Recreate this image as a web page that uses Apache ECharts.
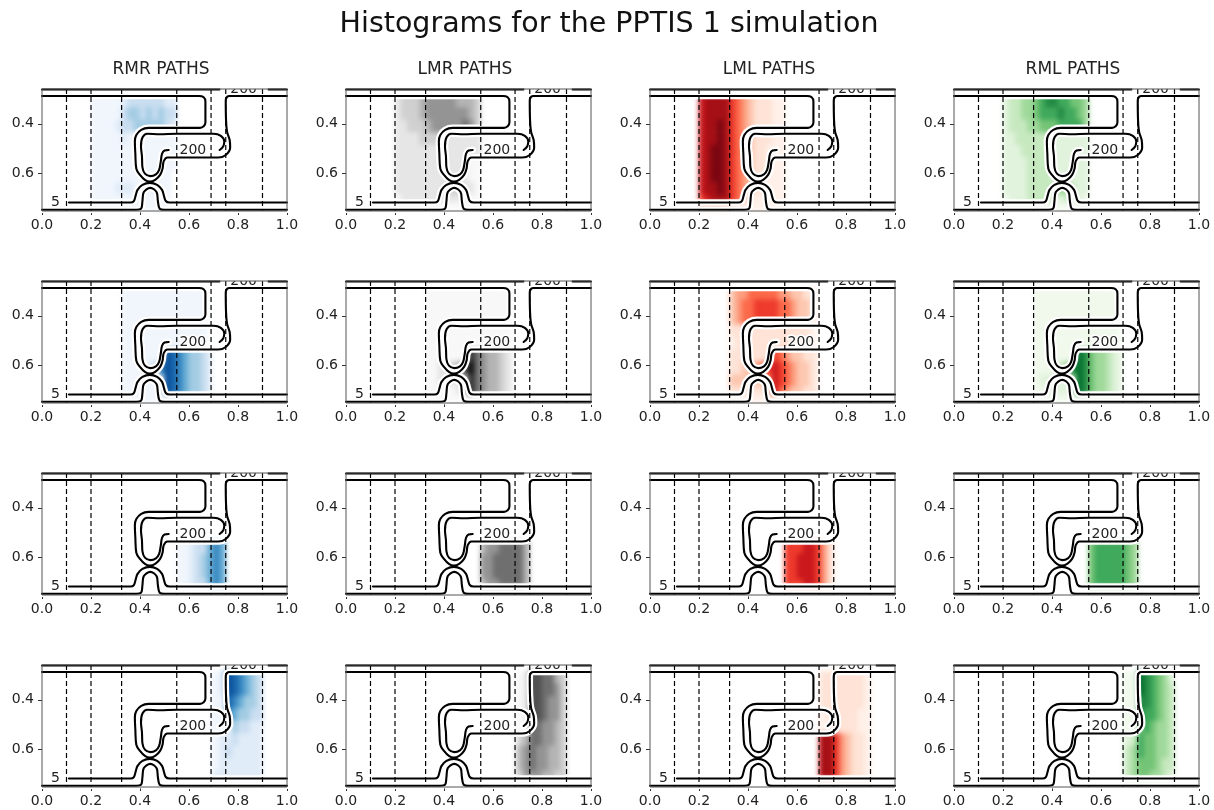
<!DOCTYPE html>
<html><head><meta charset="utf-8">
<style>html,body{margin:0;padding:0;background:#fff}#c{width:1214px;height:810px}
#c canvas[data-zr-dom-id="zr_0"]{filter:blur(2.5px)}</style>
<script src="https://cdn.jsdelivr.net/npm/echarts@6/dist/echarts.min.js"></script>
</head><body><div id="c"></div>
<script>
const figureTitle = 'Histograms for the PPTIS 1 simulation';
const columnTitles = ['RMR PATHS','LMR PATHS','LML PATHS','RML PATHS'];
const xTicks = [0,0.2,0.4,0.6,0.8,1.0];
const yTicks = [0.4,0.6];
const interfaces = [0.1,0.2,0.325,0.55,0.69,0.75,0.9];

// histogram bin edges
const yEdges = [.285,.335,.385,.435,.485,.535,.585,.635,.685,.715,.745];
const xEdgesRow1 = [.2,.225,.25,.275,.3,.325,.35,.375,.4,.425,.45,.475,.5,.525,.55];
const xEdgesRow2 = [.325,.35,.375,.4,.425,.45,.475,.5,.525,.55,.575,.6,.625,.65,.675,.69];
const xEdgesRow3 = [.55,.575,.6,.625,.65,.675,.7,.725,.75];
const xEdgesRow4 = [.69,.7,.725,.75,.775,.8,.825,.85,.875,.9];

// histogram levels (0 = empty, 9 = darkest)
const rmr1 = [[1,1,1,1,1,2,3,3,3,3,3,3,2,2],[1,1,1,1,1,3,4,4,3,4,3,4,3,3],[1,1,1,1,2,3,3,4,4,4,4,4,3,2],[1,1,1,1,1,2,1,1,1,1,1,1,1,1],[1,1,1,1,1,1,1,1,1,1,1,1,1,1],[1,1,1,1,1,1,1,1,1,1,1,1,1,1],[1,1,1,1,1,1,1,1,1,1,1,1,1,0],[1,1,1,1,2,2,2,1,1,1,2,1,1,0],[1,1,1,1,1,1,1,1,1,1,1,1,1,0],[1,1,1,1,1,1,1,1,1,1,1,1,1,0]];
const lmr1 = [[2,3,3,3,4,5,5,5,5,5,4,4,4,3],[2,3,3,3,4,5,5,5,5,5,5,5,4,3],[2,2,3,3,3,4,5,5,5,5,5,6,5,3],[2,2,2,2,3,3,3,3,2,2,2,2,2,2],[2,2,2,2,2,2,2,2,2,2,2,2,2,2],[2,2,2,2,2,2,2,2,2,2,2,2,1,1],[2,2,2,2,2,2,2,2,2,2,2,2,1,1],[2,2,2,2,2,2,2,2,3,3,3,2,2,1],[1,2,2,2,2,2,2,2,2,2,2,2,1,1],[1,1,1,1,1,1,1,1,1,1,1,1,1,1]];
const lml1 = [[7,8,8,8,8,6,5,4,3,2,2,2,1,1],[7,8,8,8,8,6,5,4,3,2,2,2,1,1],[7,8,8,9,8,6,5,4,3,2,2,2,1,1],[7,8,8,9,8,6,5,4,3,2,2,2,1,1],[7,8,9,9,8,6,5,4,3,2,2,1,1,1],[7,8,9,9,8,6,5,4,3,2,2,1,1,1],[7,8,9,9,8,6,5,4,3,2,2,1,1,1],[7,8,8,9,8,6,5,4,3,2,2,1,1,1],[6,7,8,8,8,6,5,3,2,1,1,1,1,1],[3,3,3,3,3,2,2,1,1,1,1,1,1,1]];
const rml1 = [[2,3,3,4,4,5,6,7,7,6,6,5,5,4],[2,3,3,4,4,5,6,6,6,7,6,6,5,4],[2,3,3,3,4,4,5,5,5,6,6,6,6,4],[2,2,3,3,3,3,3,3,2,2,2,2,2,2],[2,2,2,3,3,3,3,3,2,2,2,2,2,2],[2,2,2,2,3,3,3,3,2,2,2,2,2,2],[2,2,2,2,3,3,3,3,2,2,2,2,2,2],[2,2,2,2,3,3,3,3,4,4,4,3,2,2],[1,2,2,2,3,3,3,3,2,2,3,2,2,1],[1,1,1,1,1,1,1,1,1,1,1,1,1,1]];

const rmr2 = [[1,1,1,1,1,1,1,1,1,1,1,1,1,1,0],[1,1,1,1,1,1,1,1,1,1,1,1,1,1,0],[1,1,1,1,1,1,1,1,1,1,1,1,1,1,0],[1,1,1,1,1,1,1,1,1,1,1,1,1,1,0],[1,1,1,1,1,1,1,1,1,1,1,1,1,1,0],[1,1,1,1,1,1,1,8,7,6,5,4,4,3,2],[1,1,1,1,2,3,6,8,7,6,5,4,4,3,2],[1,1,1,1,1,1,3,8,7,6,5,4,4,3,2],[1,1,1,1,1,1,3,8,7,6,5,4,4,3,2],[1,1,1,1,1,1,1,2,1,1,1,1,1,1,1]];
const lmr2 = [[1,1,1,1,1,1,1,1,1,1,1,1,1,1,0],[1,1,1,1,1,1,1,1,1,1,1,1,1,1,0],[1,1,1,1,1,1,1,1,1,1,1,1,1,1,0],[1,1,1,1,1,1,1,1,1,1,1,1,1,1,0],[1,1,1,1,1,1,1,1,1,1,1,1,1,1,0],[1,1,1,1,1,1,1,8,6,5,4,4,3,2,1],[1,1,2,2,3,4,7,9,6,5,4,4,3,2,1],[1,1,2,2,2,2,4,8,6,5,4,4,3,2,1],[1,1,1,1,1,2,4,8,6,5,4,4,3,2,1],[1,1,1,1,1,1,1,2,1,1,1,1,1,1,1]];
const lml2 = [[3,4,4,5,5,5,5,5,4,4,3,3,2,2,0],[3,4,5,5,6,6,6,6,5,5,4,3,3,2,0],[3,4,5,5,6,6,6,6,5,5,4,3,3,2,0],[2,2,2,2,2,2,2,2,2,2,2,2,2,1,0],[1,2,2,2,2,2,2,2,2,2,1,1,1,1,0],[2,2,2,2,2,2,2,6,5,4,3,3,2,2,1],[2,2,3,3,4,5,6,7,6,5,4,3,3,2,1],[3,3,3,3,3,3,5,7,6,5,4,3,3,2,1],[2,2,2,2,2,2,4,7,5,4,3,3,2,2,1],[1,1,1,1,1,1,2,2,1,1,1,1,1,1,0]];
const rml2 = [[1,1,1,1,1,1,1,1,1,1,1,1,1,1,0],[1,1,1,1,1,1,1,1,1,1,1,1,1,1,0],[1,1,1,1,1,1,1,1,1,1,1,1,1,1,0],[1,1,1,1,1,1,1,1,1,1,1,1,1,1,0],[1,1,1,1,1,1,1,1,1,1,1,1,1,1,0],[1,1,1,1,1,1,1,8,7,5,4,4,3,2,1],[1,1,1,2,3,4,7,8,7,5,4,4,3,2,1],[1,2,2,2,2,2,4,8,7,5,4,4,3,2,1],[1,1,2,2,2,2,4,8,7,5,4,4,3,2,1],[1,1,1,1,1,1,1,2,1,1,1,1,1,1,1]];

const rmr3 = [[1,1,2,3,3,5,6,5],[1,1,2,3,4,5,6,5],[1,1,2,3,4,5,6,5],[1,1,2,3,3,5,6,5],[1,1,1,1,1,1,2,2]];
const lmr3 = [[4,5,5,6,6,6,6,4],[5,5,6,6,6,6,6,4],[5,5,6,6,6,6,6,4],[4,5,5,6,6,6,6,4],[2,2,2,2,2,2,2,1]];
const lml3 = [[6,6,6,7,7,6,4,2],[6,6,7,7,7,6,4,2],[6,6,7,7,7,6,4,2],[6,6,6,7,7,6,4,2],[2,2,2,2,2,2,1,1]];
const rml3 = [[5,6,6,6,6,6,5,4],[5,6,6,6,6,6,5,4],[5,6,6,6,6,6,5,4],[5,6,6,6,6,6,5,4],[2,2,2,2,2,2,2,1]];

const rmr4 = [[1,1,2,8,7,6,5,4,3],[1,1,2,8,7,6,5,4,3],[1,1,1,7,6,5,4,4,3],[1,1,1,6,5,4,4,3,3],[1,1,1,1,4,3,3,2,2],[1,1,2,2,3,2,2,2,2],[1,1,2,3,2,2,2,2,2],[1,1,2,2,2,2,2,2,2],[1,2,2,2,2,2,2,2,2],[1,1,1,1,1,1,1,1,1]];
const lmr4 = [[1,1,2,7,7,6,6,4,3],[1,1,2,7,7,6,6,5,3],[1,1,2,7,7,6,5,5,3],[1,1,2,7,7,6,5,5,3],[1,1,1,6,6,5,5,4,3],[1,3,4,6,6,5,5,4,3],[2,4,5,6,5,5,4,4,3],[2,4,5,6,5,5,4,4,3],[2,3,5,5,5,4,4,3,3],[1,1,1,1,1,1,1,1,1]];
const lml4 = [[1,2,2,2,2,2,2,2,1],[1,2,2,2,2,2,2,2,1],[1,2,2,2,2,2,2,2,1],[1,1,2,2,2,2,2,1,1],[1,1,1,2,2,2,2,1,1],[7,8,8,6,4,3,2,2,1],[7,8,8,6,4,3,2,2,1],[7,8,8,6,4,3,2,2,1],[7,8,8,6,4,3,2,2,1],[2,2,2,1,1,1,1,1,1]];
const rml4 = [[1,1,1,8,7,6,5,4,2],[1,1,1,8,7,6,5,4,3],[1,1,1,7,7,6,5,4,3],[1,1,1,7,6,6,5,4,3],[1,1,1,5,6,5,4,4,3],[2,2,3,6,5,5,4,4,3],[2,3,4,6,5,5,4,4,3],[2,3,4,5,5,5,4,3,3],[2,3,4,5,5,4,4,3,2],[1,1,1,1,1,1,1,1,1]];

// colour ramps, index = level
const blues  = ['#ffffff','#f1f6fd','#e0ecf8','#c9ddf0','#a3cce3','#6aaed6','#3585bf','#1764ab','#084e98','#08306b'];
const greys  = ['#ffffff','#f8f8f8','#e6e6e6','#d0d0d0','#b4b4b4','#949494','#6f6f6f','#505050','#2c2c2c','#0c0c0c'];
const reds   = ['#ffffff','#fff0e9','#fee3d6','#fdc7b0','#fc9e80','#fb6a4a','#ee3a2c','#ca181d','#a50f15','#7a0510'];
const greens = ['#ffffff','#f0f9ec','#e1f3dc','#c7e9c0','#a0d99b','#74c476','#3fa95c','#228a44','#006c2c','#00441b'];
const ramps = [blues, greys, reds, greens];

const panels = [
  [rmr1,lmr1,lml1,rml1,xEdgesRow1],
  [rmr2,lmr2,lml2,rml2,xEdgesRow2],
  [rmr3,lmr3,lml3,rml3,xEdgesRow3],
  [rmr4,lmr4,lml4,rml4,xEdgesRow4]
];

// contour lines of the potential, in data coordinates
const contourTopLeft = [[0,.262],[.724,.262]];
const contourTopRight = [[.925,.262],[1,.262]];
const contourOuter = [[0,.288],[.64,.288],[.66,.293],[.667,.31],[.667,.395],[.66,.41],[.645,.416],[.435,.416],[.405,.424],[.385,.445],[.379,.47],[.381,.52],[.385,.58],[.4,.605],[.42,.625],[.44,.632],[.462,.625],[.482,.605],[.492,.58],[.497,.55],[.512,.535],[.72,.535],[.75,.525],[.768,.495],[.766,.465],[.755,.43],[.751,.38],[.75,.305],[.755,.292],[.765,.288],[1,.288]];
const contourInner = [[.517,.505],[.5,.507],[.49,.52],[.485,.55],[.478,.585],[.465,.603],[.442,.61],[.42,.6],[.41,.575],[.408,.53],[.404,.49],[.41,.455],[.43,.44],[.48,.442],[.55,.44],[.7,.44],[.73,.448],[.744,.47],[.74,.49],[.725,.505]];
const contourLowerArch = [[.11,.716],[.36,.716],[.375,.71],[.383,.685],[.39,.665],[.41,.645],[.44,.637],[.47,.645],[.49,.665],[.498,.69],[.505,.71],[.52,.716],[1,.716]];
const contourBottom = [[0,.745],[.385,.745],[.405,.74],[.41,.71],[.415,.675],[.442,.657],[.468,.675],[.473,.71],[.48,.74],[.5,.745],[1,.745]];
const contourLabels = [[.055,.714,'5'],[.616,.505,'200'],[.823,.262,'200']];

const BR = ['-','-'];
const contours = [contourTopLeft,contourTopRight,contourOuter,contourInner,contourLowerArch,contourBottom];
const contourData = contours.reduce((a,c,i)=>a.concat(i?[BR]:[],c),[]);
const dashData = interfaces.reduce((a,x,i)=>a.concat(i?[BR]:[],[[x,.26],[x,.75]]),[]);

const gridLeft = [42,346,650,954], gridTop = [89,281,473,665], gridW = 245, gridH = 122;
const grids=[],xAxes=[],yAxes=[],series=[];
const titles=[{text:figureTitle,left:609,top:10,padding:0,zlevel:1,textAlign:'center',textStyle:{fontFamily:'DejaVu Sans',fontSize:28.5,fontWeight:'normal',color:'#111'}}];
columnTitles.forEach((t,c)=>titles.push({text:t,left:gridLeft[c]+gridW/2-3.5,top:61,padding:0,zlevel:1,textAlign:'center',textStyle:{fontFamily:'DejaVu Sans',fontSize:17,fontWeight:'normal',color:'#222'}}));

function heatItem(params, api){
  const a=api.coord([api.value(0),api.value(2)]), b=api.coord([api.value(1),api.value(3)]);
  return {type:'rect',shape:{x:a[0]-0.3,y:a[1]-0.3,width:b[0]-a[0]+0.6,height:b[1]-a[1]+0.6},style:{fill:ramps[api.value(5)][api.value(4)]}};
}
function labelItem(params, api){
  const p=api.coord([api.value(0),api.value(1)]);
  return {type:'text',x:p[0],y:p[1],style:{text:contourLabels[params.dataIndex][2],align:'center',verticalAlign:'middle',fontFamily:'DejaVu Sans',fontSize:14,fill:'#222',stroke:'#fff',lineWidth:3}};
}

panels.forEach((row,r)=>{
  const xe=row[4];
  for(let c=0;c<4;c++){
    const g=grids.length;
    grids.push({left:gridLeft[c],top:gridTop[r],width:gridW,height:gridH,show:true,borderColor:'#555',borderWidth:1,backgroundColor:'transparent',z:6,zlevel:1});
    xAxes.push({gridIndex:g,zlevel:1,type:'value',min:0,max:1,interval:.2,splitLine:{show:false},axisLine:{show:false},
      axisTick:{show:true,length:4,lineStyle:{color:'#333'}},
      axisLabel:{margin:7,fontFamily:'DejaVu Sans',fontSize:14,color:'#222',formatter:v=>v.toFixed(1),hideOverlap:false}});
    yAxes.push({gridIndex:g,zlevel:1,type:'value',inverse:true,min:.26,max:.75,splitLine:{show:false},axisLine:{show:false},
      axisTick:{show:true,length:4,customValues:yTicks,lineStyle:{color:'#333'}},
      axisLabel:{margin:8,padding:[4,0,0,0],fontFamily:'DejaVu Sans',fontSize:14,color:'#222',customValues:yTicks,formatter:v=>v.toFixed(1)}});
    const m=row[c], pad=yEdges.length-1-m.length, cells=[];
    m.forEach((vals,i)=>vals.forEach((v,j)=>{ if(v>0) cells.push([xe[j],xe[j+1],yEdges[i+pad],yEdges[i+pad+1],v,c]); }));
    series.push({type:'custom',xAxisIndex:g,yAxisIndex:g,zlevel:0,z:1,clip:true,silent:true,renderItem:heatItem,data:cells,encode:{x:[0,1],y:[2,3]}});
    series.push({type:'line',xAxisIndex:g,yAxisIndex:g,zlevel:1,z:2,smooth:.35,showSymbol:false,silent:true,clip:true,connectNulls:false,data:contourData,lineStyle:{color:'#fff',width:6.5,cap:'round'}});
    series.push({type:'line',xAxisIndex:g,yAxisIndex:g,zlevel:1,z:3,showSymbol:false,silent:true,clip:true,connectNulls:false,data:dashData,lineStyle:{color:'#000',width:1.2,type:[5,3]}});
    series.push({type:'line',xAxisIndex:g,yAxisIndex:g,zlevel:1,z:4,smooth:.35,showSymbol:false,silent:true,clip:true,connectNulls:false,data:contourData,lineStyle:{color:'#000',width:2.1,cap:'round'}});
    series.push({type:'custom',xAxisIndex:g,yAxisIndex:g,zlevel:1,z:5,clip:true,silent:true,renderItem:labelItem,data:contourLabels.map(l=>[l[0],l[1]]),encode:{x:0,y:1}});
  }
});

const chart=echarts.init(document.getElementById('c'),null,{renderer:'canvas'});
chart.setOption({animation:false,backgroundColor:'#fff',title:titles,grid:grids,xAxis:xAxes,yAxis:yAxes,series:series,tooltip:{show:false}});
</script></body></html>
